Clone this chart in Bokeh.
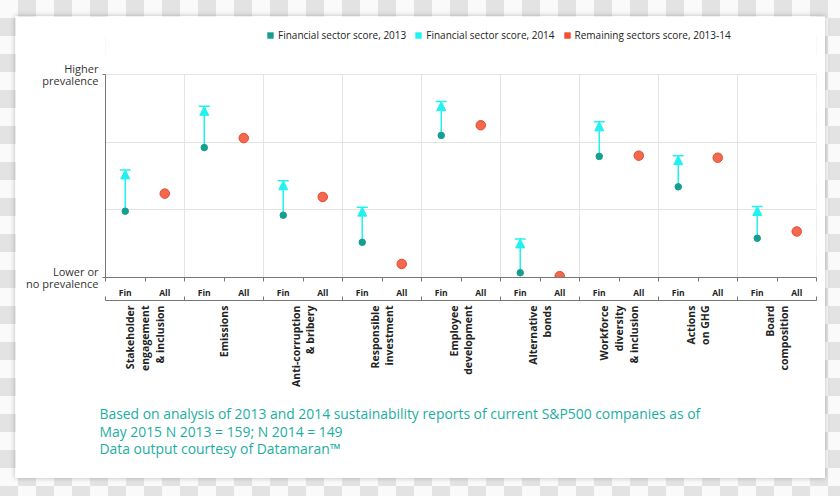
import numpy as np
from bokeh.plotting import figure
from bokeh.models import (ColumnDataSource, FixedTicker, LinearAxis, Legend, LegendItem,
                          Title, Range1d, Arrow, NormalHead, TeeHead)
from bokeh.layouts import column
from bokeh.embed import file_html
from bokeh.resources import INLINE

# ---------------- data ----------------
categories = ["Stakeholder\nengagement\n& inclusion", "Emissions", "Anti-corruption\n& bribery",
              "Responsible\ninvestment", "Employee\ndevelopment", "Alternative\nbonds",
              "Workforce\ndiversity\n& inclusion", "Actions\non GHG", "Board\ncomposition"]
sub_labels = ["Fin", "All"]
fin_2013 = [0.98, 1.92, 0.92, 0.52, 2.10, 0.07, 1.79, 1.34, 0.58]
fin_2014 = [1.59, 2.53, 1.43, 1.04, 2.60, 0.57, 2.30, 1.80, 1.05]
all_1314 = [1.24, 2.06, 1.19, 0.20, 2.25, 0.02, 1.80, 1.77, 0.68]
y_tick_labels = {0: "Lower or\nno prevalence", 3: "Higher\nprevalence"}
legend_labels = ["Financial sector score, 2013", "Financial sector score, 2014",
                 "Remaining sectors score, 2013-14"]
footnote = ["Based on analysis of 2013 and 2014 sustainability reports of current S&P500 companies as of",
            "May 2015 N 2013 = 159; N 2014 = 149",
            "Data output courtesy of Datamaran\u2122"]

TEAL = "#169e90"
CYAN = "#1ff2f0"
RED_FILL = "#f4694d"
RED_LINE = "#e6482c"
FOOT = "#1bae9f"
GRID = "#e4e4e4"
FONT = "Open Sans"

n = len(categories)
x_fin = [2 * i + 0.5 for i in range(n)]
x_all = [2 * i + 1.5 for i in range(n)]
y_top = 3.0
bounds_x = list(range(2, 2 * n + 1, 2))

# frame spans card y 0..261 ; data 0..3 occupies the lower 203 px
FRAME_H, DATA_H = 261, 203
p = figure(width=810, height=462, x_range=Range1d(0, 2 * n),
           y_range=Range1d(0, y_top * FRAME_H / DATA_H),
           output_backend="svg", toolbar_location=None,
           min_border_left=90, min_border_right=9, min_border_top=0, min_border_bottom=201)
p.background_fill_color = "white"
p.border_fill_color = "white"
p.outline_line_color = None
p.styles = {"box-shadow": "0 0 5px rgba(0,0,0,0.25)"}

# grids
p.xgrid.visible = False
p.ygrid.ticker = FixedTicker(ticks=[1, 2, 3])
p.ygrid.grid_line_color = GRID
p.segment(x0=bounds_x, x1=bounds_x, y0=[0] * len(bounds_x), y1=[y_top] * len(bounds_x),
          line_color=GRID, line_width=1, level="underlay")

# y axis
ya = p.yaxis[0]
ya.bounds = (0, y_top)
ya.ticker = FixedTicker(ticks=list(y_tick_labels.keys()))
ya.major_label_overrides = y_tick_labels
ya.axis_line_color = "#777777"
ya.major_tick_line_color = "#777777"
ya.major_tick_out = 3
ya.major_tick_in = 0
ya.minor_tick_line_color = None
ya.major_label_text_font = FONT
ya.major_label_text_font_size = "11px"
ya.major_label_text_line_height = 0.85
ya.major_label_text_color = "#333333"
ya.major_label_standoff = 4

# x axis: Fin / All
xa = p.xaxis[0]
xa.ticker = FixedTicker(ticks=x_fin + x_all, minor_ticks=list(range(0, 2 * n + 1)))
xa.major_label_overrides = {**{x: sub_labels[0] for x in x_fin}, **{x: sub_labels[1] for x in x_all}}
xa.axis_line_color = "#777777"
xa.major_tick_line_color = None
xa.major_tick_out = 0
xa.major_tick_in = 0
xa.minor_tick_line_color = "#777777"
xa.minor_tick_out = 4
xa.minor_tick_in = 0
xa.major_label_standoff = 5
xa.major_label_text_font = FONT
xa.major_label_text_font_size = "8.5px"
xa.major_label_text_font_style = "bold"
xa.major_label_text_color = "#222222"

# category axis
cat_centers = [2 * i + 1 for i in range(n)]
ca = LinearAxis(ticker=FixedTicker(ticks=cat_centers, minor_ticks=list(range(0, 2 * n + 1, 2))))
ca.major_label_overrides = {c: lab for c, lab in zip(cat_centers, categories)}
ca.axis_line_color = "#777777"
ca.major_tick_line_color = None
ca.major_tick_out = 0
ca.major_tick_in = 0
ca.minor_tick_line_color = "#777777"
ca.minor_tick_out = 0
ca.minor_tick_in = 4
ca.major_label_orientation = np.pi / 2
ca.major_label_standoff = 5
ca.major_label_text_font = FONT
ca.major_label_text_font_size = "10.5px"
ca.major_label_text_font_style = "bold"
ca.major_label_text_line_height = 1.05
ca.major_label_text_color = "#222222"
p.add_layout(ca, "below")

# footnote (one multi-line title below the axes)
p.add_layout(Title(text="\n".join(footnote), align="left", offset=-6, standoff=26,
                   text_font=FONT, text_font_size="13.9px", text_font_style="normal",
                   text_line_height=0.93, text_color=FOOT), "below")

# arrows 2013 -> 2014
src = ColumnDataSource(dict(x=x_fin, y0=fin_2013, y1=fin_2014))
p.add_layout(Arrow(x_start="x", y_start="y0", x_end="x", y_end="y1", source=src,
                   line_color=CYAN, line_width=1.5, level="underlay",
                   end=NormalHead(size=9, fill_color=CYAN, line_color=CYAN, line_width=1)))
p.add_layout(Arrow(x_start="x", y_start="y0", x_end="x", y_end="y1", source=src,
                   line_alpha=0, level="underlay",
                   end=TeeHead(size=11, line_color=CYAN, line_width=1.5)))

p.scatter(x_fin, fin_2013, size=6.5, fill_color=TEAL, line_color=TEAL)
p.scatter(x_all, all_1314, size=9.5, fill_color=RED_FILL, line_color=RED_LINE, line_width=1)

# legend (square swatch renderers with no visible data) inside the top of the frame
nan = [np.nan]
r1 = p.quad(left=nan, right=nan, top=nan, bottom=nan, fill_color=TEAL, line_color=None)
r2 = p.quad(left=nan, right=nan, top=nan, bottom=nan, fill_color=CYAN, line_color=None)
r3 = p.quad(left=nan, right=nan, top=nan, bottom=nan, fill_color="#f0502f", line_color=None)
legend = Legend(items=[LegendItem(label=legend_labels[0], renderers=[r1]),
                       LegendItem(label=legend_labels[1], renderers=[r2]),
                       LegendItem(label=legend_labels[2], renderers=[r3])],
                orientation="horizontal", location=(161, 235),
                glyph_width=8, glyph_height=8, label_standoff=4, spacing=8,
                padding=0, margin=0, border_line_color=None, background_fill_alpha=0,
                label_height=12, label_text_font=FONT, label_text_font_size="10px",
                label_text_color="#222222")
p.add_layout(legend)

layout = column(p, styles={
    "background": "repeating-conic-gradient(#e3e3e3 0% 25%, #fafafa 0% 50%) 0 0 / 36px 36px",
    "padding": "16px 15px 18px 15px"})

open("out.html", "w").write(file_html(layout, INLINE))
